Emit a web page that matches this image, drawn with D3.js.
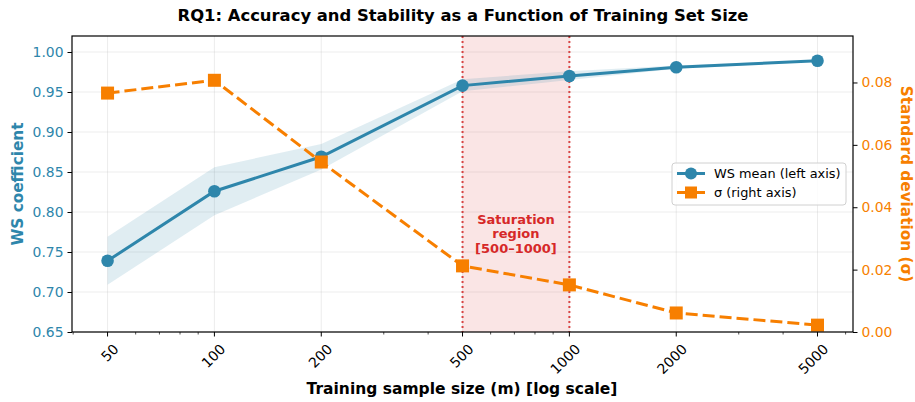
<!DOCTYPE html>
<html>
<head>
<meta charset="utf-8">
<script src="https://cdn.jsdelivr.net/npm/d3@7"></script>
<style>
  body { margin: 0; background: #fff; }
  svg { font-family: "DejaVu Sans", sans-serif; }
</style>
</head>
<body>
<svg id="chart" width="915" height="402"></svg>
<script>
// RQ1 chart: WS mean (left) and sigma (right) vs training size

const sizes = [50, 100, 200, 500, 1000, 2000, 5000];
const wsMean = [0.739, 0.826, 0.869, 0.958, 0.970, 0.981, 0.989];
const wsLow = [0.709, 0.796, 0.853, 0.951, 0.965, 0.979, 0.988];
const wsHigh = [0.769, 0.856, 0.885, 0.966, 0.976, 0.983, 0.990];
const sigma = [0.0766, 0.0807, 0.0545, 0.0212, 0.0151, 0.0061, 0.0022];
const leftTicks = [0.65, 0.70, 0.75, 0.80, 0.85, 0.90, 0.95, 1.00];
const rightTicks = [0, 0.02, 0.04, 0.06, 0.08];
const saturation = [500, 1000];

const blue = '#2E86AB',
      orange = '#F77F00',
      red = '#D62828';

const svg = d3.select('#chart');
const m = {left: 72, right: 853, top: 36, bottom: 332};

const x = d3.scaleLog().domain([39.7, 6295]).range([m.left, m.right]);
const yL = d3.scaleLinear().domain([0.65, 1.02]).range([m.bottom, m.top]);
const yR = d3.scaleLinear().domain([0, 0.0949]).range([m.bottom, m.top]);

// grid
const grid = svg.append('g');
grid.selectAll('.gy').data(leftTicks).join('line')
  .attr('x1', m.left).attr('x2', m.right)
  .attr('y1', d => yL(d)).attr('y2', d => yL(d))
  .attr('stroke', '#b0b0b0').attr('stroke-opacity', 0.3).attr('stroke-width', 0.8);
grid.selectAll('.gx').data(sizes).join('line')
  .attr('x1', d => x(d)).attr('x2', d => x(d))
  .attr('y1', m.top).attr('y2', m.bottom)
  .attr('stroke', '#b0b0b0').attr('stroke-opacity', 0.3).attr('stroke-width', 0.8);

// saturation region
svg.append('rect')
  .attr('x', x(saturation[0])).attr('y', m.top)
  .attr('width', x(saturation[1]) - x(saturation[0]))
  .attr('height', m.bottom - m.top)
  .attr('fill', red).attr('fill-opacity', 0.12);
svg.selectAll('.satline').data(saturation).join('line')
  .attr('x1', d => x(d)).attr('x2', d => x(d))
  .attr('y1', m.top).attr('y2', m.bottom)
  .attr('stroke', red).attr('stroke-width', 2)
  .attr('stroke-dasharray', '2,3').attr('opacity', 0.85);

const satText = svg.append('text')
  .attr('text-anchor', 'middle')
  .attr('font-size', 13).attr('font-weight', 'bold')
  .attr('fill', red);
['Saturation', 'region', '[500\u20131000]'].forEach((t, i) => {
  satText.append('tspan')
    .attr('x', x(Math.sqrt(saturation[0] * saturation[1])))
    .attr('y', 223.5 + i * 14.5)
    .text(t);
});

// band
const rows = sizes.map((s, i) => ({s, m: wsMean[i], lo: wsLow[i], hi: wsHigh[i], sd: sigma[i]}));
svg.append('path')
  .datum(rows)
  .attr('d', d3.area().x(d => x(d.s)).y0(d => yL(d.lo)).y1(d => yL(d.hi)))
  .attr('fill', blue).attr('fill-opacity', 0.15);

// mean line
svg.append('path')
  .datum(rows)
  .attr('d', d3.line().x(d => x(d.s)).y(d => yL(d.m)))
  .attr('fill', 'none').attr('stroke', blue).attr('stroke-width', 3);
svg.selectAll('.dot').data(rows).join('circle')
  .attr('cx', d => x(d.s)).attr('cy', d => yL(d.m)).attr('r', 6.3)
  .attr('fill', blue);

// sigma line
svg.append('path')
  .datum(rows)
  .attr('d', d3.line().x(d => x(d.s)).y(d => yR(d.sd)))
  .attr('fill', 'none').attr('stroke', orange).attr('stroke-width', 3)
  .attr('stroke-dasharray', '12,5');
svg.selectAll('.sq').data(rows).join('rect')
  .attr('x', d => x(d.s) - 6.5).attr('y', d => yR(d.sd) - 6.5)
  .attr('width', 13).attr('height', 13)
  .attr('fill', orange);

// frame
svg.append('rect')
  .attr('x', m.left).attr('y', m.top)
  .attr('width', m.right - m.left).attr('height', m.bottom - m.top)
  .attr('fill', 'none').attr('stroke', '#000').attr('stroke-width', 1.2);

// axes
const minor = [];
[10, 100, 1000].forEach(dec => {
  for (let k = 2; k <= 9; k++) {
    const v = dec * k;
    if (v >= 39.7 && v <= 6295 && !sizes.includes(v)) minor.push(v);
  }
});

const xAxis = svg.append('g').attr('transform', `translate(0,${m.bottom})`);
xAxis.selectAll('.minor').data(minor).join('line')
  .attr('x1', d => x(d)).attr('x2', d => x(d)).attr('y1', 0).attr('y2', 2.5)
  .attr('stroke', '#000').attr('stroke-width', 0.7);
xAxis.selectAll('.major').data(sizes).join('line')
  .attr('x1', d => x(d)).attr('x2', d => x(d)).attr('y1', 0).attr('y2', 4.5)
  .attr('stroke', '#000').attr('stroke-width', 1);
xAxis.selectAll('text').data(sizes).join('text')
  .attr('transform', d => `translate(${x(d) + 5},${11}) rotate(-45)`)
  .attr('text-anchor', 'end').attr('dy', '0.7em')
  .attr('font-size', 13.9).attr('fill', '#000')
  .text(d => d);

const yAxisL = d3.axisLeft(yL).tickValues(leftTicks).tickFormat(d3.format('.2f')).tickSize(4.5).tickPadding(4);
const gL = svg.append('g').attr('transform', `translate(${m.left},0)`).call(yAxisL);
gL.select('.domain').remove();
gL.selectAll('text').attr('font-size', 13.9).attr('fill', blue).attr('font-family', '"DejaVu Sans", sans-serif');
gL.selectAll('line').attr('stroke', '#000');

const yAxisR = d3.axisRight(yR).tickValues(rightTicks).tickFormat(d3.format('.2f')).tickSize(4.5).tickPadding(4);
const gR = svg.append('g').attr('transform', `translate(${m.right},0)`).call(yAxisR);
gR.select('.domain').remove();
gR.selectAll('text').attr('font-size', 13.9).attr('fill', orange).attr('font-family', '"DejaVu Sans", sans-serif');
gR.selectAll('line').attr('stroke', '#000');

// labels
svg.append('text')
  .attr('x', 463).attr('y', 20.5)
  .attr('text-anchor', 'middle').attr('font-size', 16.4).attr('font-weight', 'bold')
  .text('RQ1: Accuracy and Stability as a Function of Training Set Size');

svg.append('text')
  .attr('x', 462).attr('y', 394)
  .attr('text-anchor', 'middle').attr('font-size', 15.5).attr('font-weight', 'bold')
  .text('Training sample size (m) [log scale]');

svg.append('text')
  .attr('transform', `translate(23,${(m.top + m.bottom) / 2}) rotate(-90)`)
  .attr('text-anchor', 'middle').attr('font-size', 15.3).attr('font-weight', 'bold')
  .attr('fill', blue)
  .text('WS coefficient');

svg.append('text')
  .attr('transform', `translate(901,${(m.top + m.bottom) / 2}) rotate(90)`)
  .attr('text-anchor', 'middle').attr('font-size', 15.3).attr('font-weight', 'bold')
  .attr('fill', orange)
  .text('Standard deviation (\u03c3)');

// legend
const lg = svg.append('g').attr('transform', 'translate(672,163)');
lg.append('rect')
  .attr('width', 174).attr('height', 42).attr('rx', 3)
  .attr('fill', '#fff').attr('fill-opacity', 0.85)
  .attr('stroke', '#d0d0d0');
const legendItems = [
  {label: 'WS mean (left axis)', color: blue, shape: 'circle'},
  {label: '\u03c3 (right axis)', color: orange, shape: 'square'}
];
legendItems.forEach((it, i) => {
  const yy = 10.5 + i * 19;
  lg.append('line')
    .attr('x1', 5).attr('x2', 33).attr('y1', yy).attr('y2', yy)
    .attr('stroke', it.color).attr('stroke-width', 3);
  if (it.shape === 'circle') {
    lg.append('circle').attr('cx', 19).attr('cy', yy).attr('r', 6).attr('fill', it.color);
  } else {
    lg.append('rect').attr('x', 13).attr('y', yy - 6).attr('width', 12).attr('height', 12).attr('fill', it.color);
  }
  lg.append('text')
    .attr('x', 42).attr('y', yy).attr('dy', '0.35em')
    .attr('font-size', 12.9).attr('fill', '#000')
    .text(it.label);
});
</script>
</body>
</html>
